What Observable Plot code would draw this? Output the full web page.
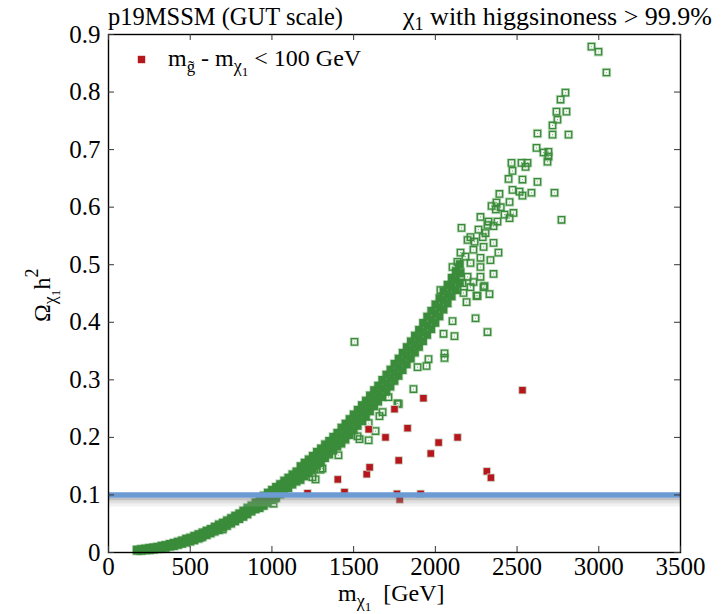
<!DOCTYPE html>
<html><head><meta charset="utf-8">
<script src="https://cdn.jsdelivr.net/npm/d3@7"></script>
<script src="https://cdn.jsdelivr.net/npm/@observablehq/plot@0.6"></script>
<style>body{margin:0;background:#fff} svg{font-family:"Liberation Serif",serif}</style>
</head><body><div id="chart"></div>
<script>
const xTicks = [0,500,1000,1500,2000,2500,3000,3500];
const xTickLabels = ["0","500","1000","1500","2000","2500","3000","3500"];
const yTicks = [0,0.1,0.2,0.3,0.4,0.5,0.6,0.7,0.8,0.9];
const yTickLabels = ["0","0.1","0.2","0.3","0.4","0.5","0.6","0.7","0.8","0.9"];
const relicDensity = [0.1];

// dense band (green): columns of neutralino mass with lower / middle / upper relic density
const bandM = [175,200,225,250,275,300,325,350,375,400,425,450,475,500,525,550,575,600,625,650,675,700,725,750,775,800,825,850,875,900,925,950,975,1000,1025,1050,1075,1100,1125,1150,1175,1200,1225,1250,1275,1300,1325,1350,1375,1400,1425,1450,1475,1500,1525,1550,1575,1600,1625,1650,1675,1700,1725,1750,1775,1800,1825,1850,1875,1900,1925,1950,1975,2000,2025,2050,2075,2100,2125,2150];
const bandLo = [0.003,0.003,0.004,0.004,0.005,0.006,0.007,0.008,0.010,0.011,0.013,0.015,0.017,0.019,0.021,0.024,0.027,0.030,0.033,0.036,0.039,0.043,0.046,0.050,0.054,0.058,0.062,0.066,0.071,0.075,
  0.077,0.081,0.086,0.091,0.096,0.101,0.107,0.112,0.118,0.123,
  0.126,0.132,0.138,0.144,0.151,0.157,0.164,0.170,0.177,0.184,
  0.189,0.196,0.204,0.212,0.220,0.228,0.236,0.245,0.254,0.262,
  0.270,0.279,0.288,0.298,0.307,0.317,0.327,0.337,0.347,0.357,
  0.367,0.378,0.388,0.399,0.410,0.422,0.433,0.445,0.457,0.469];
const bandMid = [0.004,0.004,0.005,0.006,0.007,0.008,0.009,0.011,0.012,0.014,0.016,0.018,0.020,0.023,0.025,0.028,0.031,0.034,0.037,0.040,0.044,0.047,0.051,0.055,0.059,0.063,0.067,0.072,0.076,0.081,
  0.086,0.090,0.095,0.100,0.105,0.110,0.116,0.121,0.127,0.132,
  0.138,0.144,0.150,0.156,0.163,0.169,0.176,0.182,0.189,0.196,
  0.203,0.210,0.218,0.226,0.234,0.242,0.250,0.259,0.268,0.276,
  0.285,0.294,0.303,0.313,0.322,0.332,0.342,0.352,0.362,0.372,
  0.383,0.394,0.404,0.415,0.426,0.438,0.449,0.461,0.473,0.485];
const bandHi = [0.005,0.006,0.007,0.008,0.009,0.010,0.012,0.013,0.015,0.017,0.019,0.021,0.024,0.026,0.029,0.032,0.035,0.038,0.041,0.045,0.049,0.052,0.056,0.060,0.064,0.068,0.073,0.078,0.082,0.087,
  0.095,0.099,0.104,0.109,0.114,0.119,0.125,0.130,0.136,0.141,
  0.150,0.156,0.162,0.168,0.175,0.181,0.188,0.194,0.201,0.208,
  0.217,0.224,0.232,0.240,0.248,0.256,0.264,0.273,0.282,0.290,
  0.300,0.309,0.318,0.328,0.337,0.347,0.357,0.367,0.377,0.387,
  0.399,0.410,0.420,0.431,0.442,0.454,0.465,0.477,0.489,0.501];

// scattered green points
const scatterM = [1505,2117,2319,2246,2331,2252,2356,2386,2056,2056,1958,1946,1891,1866,2050,2105,2191,2300,2337,2356,
  1407,1592,1524,1634,1658,1677,1592,1297,1267,1248,1768,1713,1010,1776,1536,1309,1022,698,563,
  2955,2998,3047,2796,2766,2741,2802,2747,2717,2717,2815,2625,2619,2662,2692,2692,2686,2466,2527,2564,2552,2472,2625,2729,2588,2772,2533,2448,2533,2392,2454,2374,2344,2478,2454,2423,2276,2160,2472,2515,2325,2356,
  2264,2307,2215,2197,2295,2233,2154,2184,2276,2135,2215,2105,2276,2154,2197,2111,2276,2166,2080,2215,2135,2031,2172,2050,2258,2295,2233,
  2319,2380,2240,2290,2370,2400];
const scatterO = [0.366,0.376,0.383,0.407,0.449,0.446,0.484,0.521,0.346,0.338,0.336,0.324,0.322,0.284,0.380,0.402,0.435,0.463,0.508,0.538,
  0.169,0.195,0.202,0.211,0.237,0.244,0.225,0.144,0.127,0.131,0.259,0.270,0.085,0.258,0.197,0.146,0.094,0.040,0.026,
  0.879,0.870,0.834,0.799,0.787,0.766,0.766,0.752,0.742,0.726,0.726,0.728,0.703,0.695,0.696,0.688,0.679,0.677,0.677,0.677,0.670,0.663,0.644,0.625,0.625,0.578,0.620,0.649,0.648,0.623,0.609,0.608,0.602,0.590,0.581,0.587,0.583,0.564,0.630,0.627,0.575,0.567,
  0.561,0.555,0.548,0.543,0.531,0.526,0.521,0.514,0.512,0.505,0.503,0.496,0.496,0.487,0.479,0.477,0.479,0.468,0.465,0.461,0.456,0.456,0.451,0.444,0.446,0.461,0.470,
  0.569,0.575,0.540,0.548,0.596,0.600];

// red: gluino - neutralino mass gap < 100 GeV
const redM = [1218,1403,1444,1580,1598,1592,1695,1750,1776,1765,1782,1830,1910,1927,1972,2020,2136,2315,2340,2533];
const redO = [0.103,0.127,0.105,0.136,0.148,0.214,0.200,0.249,0.160,0.102,0.092,0.216,0.102,0.268,0.172,0.191,0.200,0.141,0.130,0.282];

const band = [];
bandM.forEach((m, i) => { band.push({m, o: bandLo[i]}, {m, o: bandMid[i]}, {m, o: bandHi[i]}); });
const scatter = scatterM.map((m, i) => ({m, o: scatterO[i]}));
const green = band.concat(scatter);
const red = redM.map((m, i) => ({m, o: redO[i]}));

const W = 722, H = 614, mL = 108, mR = 42, mT = 34, mB = 62;
const fw = W - mL - mR, fh = H - mT - mB, tk = 6;
const G = "#3a8c3a";

const plot = Plot.plot({
  width: W, height: H, marginLeft: mL, marginRight: mR, marginTop: mT, marginBottom: mB,
  x: {domain: [0, 3500], axis: null},
  y: {domain: [0, 0.9], axis: null},
  style: {fontFamily: "Liberation Serif, serif", background: "white", color: "black"},
  marks: [
    Plot.dot(green, {x: "m", y: "o", symbol: "square", r: 3.6, stroke: G, strokeOpacity: 0.3, strokeWidth: 3}),
    Plot.dot(band, {x: "m", y: "o", symbol: "square", r: 3.6, fill: G, stroke: G, strokeWidth: 1.3}),
    Plot.dot(scatter, {x: "m", y: "o", symbol: "square", r: 3.6, stroke: G, strokeWidth: 1.3}),
    Plot.dot(scatter, {x: "m", y: "o", r: 0.6, fill: G, fillOpacity: 0.7}),
    Plot.dot(red, {x: "m", y: "o", symbol: "square", r: 4.2, fill: "#b5171d", stroke: "#cfe3cf", strokeWidth: 0.8}),
    Plot.ruleY(relicDensity, {y: d => d, stroke: "#777", strokeOpacity: 0.45, strokeWidth: 3, dy: 4}),
    Plot.ruleY(relicDensity, {y: d => d, stroke: "#999", strokeOpacity: 0.3, strokeWidth: 3, dy: 7}),
    Plot.ruleY(relicDensity, {y: d => d, stroke: "#bbb", strokeOpacity: 0.2, strokeWidth: 3, dy: 10}),
    Plot.ruleY(relicDensity, {y: d => d, stroke: "#6b9bd2", strokeWidth: 5.5}),
    Plot.frame({stroke: "#000", strokeWidth: 1.4}),
    Plot.tickX(xTicks, {x: d => d, stroke: "#333", insetTop: fh - tk}),
    Plot.tickX(xTicks, {x: d => d, stroke: "#333", insetBottom: fh - tk}),
    Plot.tickY(yTicks, {y: d => d, stroke: "#333", insetLeft: fw - tk}),
    Plot.tickY(yTicks, {y: d => d, stroke: "#333", insetRight: fw - tk}),
    Plot.axisX(xTicks, {anchor: "bottom", label: null, tickSize: 0, tickPadding: 5, fontSize: 25, tickFormat: (d, i) => xTickLabels[i]}),
    Plot.axisY(yTicks, {anchor: "left", label: null, tickSize: 0, tickPadding: 8, fontSize: 25, tickFormat: (d, i) => yTickLabels[i]}),
    Plot.dot(["legend"], {x: null, y: null, frameAnchor: "top-left", dx: 33, dy: 25, symbol: "square", r: 4.2, fill: "#b5171d"})
  ]
});

const svg = d3.select(plot);
function addText(x, y, parts, {anchor = "start", size = 24, rotate = null} = {}) {
  const t = svg.append("text").attr("x", x).attr("y", y).attr("font-size", size)
    .attr("font-family", "Liberation Serif, serif").attr("text-anchor", anchor).attr("fill", "#000");
  if (rotate !== null) t.attr("transform", `rotate(${rotate},${x},${y})`);
  let shift = 0;
  for (const p of parts) {
    const s = t.append("tspan").text(p.t).attr("font-size", size * (p.s || 1));
    const target = p.dy || 0;
    s.attr("dy", target - shift);
    shift = target;
  }
  return t;
}
addText(108, 25, [{t: "p19MSSM (GUT scale)"}], {size: 24.5});
addText(712, 25, [{t: "χ"}, {t: "1", s: 0.7, dy: 5}, {t: " with higgsinoness > 99.9%"}], {anchor: "end", size: 26});
addText(168, 66, [{t: "m"}, {t: "g̃", s: 0.7, dy: 6}, {t: " - m"}, {t: "χ", s: 0.75, dy: 6}, {t: "1", s: 0.55, dy: 10}, {t: " < 100 GeV"}], {size: 24});
addText(338, 601, [{t: "m"}, {t: "χ", s: 0.75, dy: 6}, {t: "1", s: 0.55, dy: 10}, {t: "  [GeV]"}], {size: 24});
addText(50, 322, [{t: "Ω"}, {t: "χ", s: 0.75, dy: 6}, {t: "1", s: 0.55, dy: 10}, {t: "h"}, {t: "2", s: 0.75, dy: -12}], {size: 24, rotate: -90});

document.getElementById("chart").appendChild(plot);
</script>
</body></html>
